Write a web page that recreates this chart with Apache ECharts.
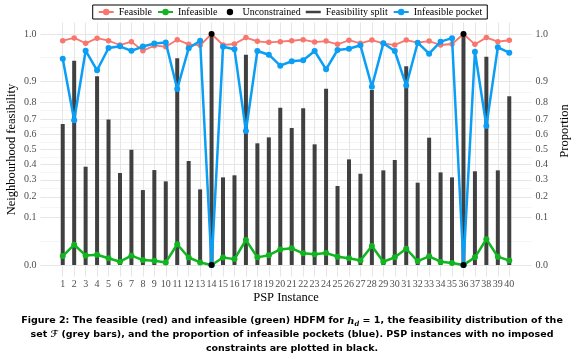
<!DOCTYPE html>
<html><head><meta charset="utf-8">
<script src="https://cdn.jsdelivr.net/npm/echarts@6/dist/echarts.min.js"></script>
<style>html,body{margin:0;padding:0;background:#fff}#c{width:580px;height:359px}</style>
</head><body><div id="c"></div><script>
const instances = [1,2,3,4,5,6,7,8,9,10,11,12,13,14,15,16,17,18,19,20,21,22,23,24,25,26,27,28,29,30,31,32,33,34,35,36,37,38,39,40];
const feasible = [0.9979,0.9993,0.9960,0.9992,0.9979,0.9944,0.9973,0.9871,0.9937,0.9926,0.9985,0.9951,0.9941,1.0,0.9944,0.9954,0.9994,0.9975,0.9968,0.9973,0.9979,0.9985,0.9970,0.9977,0.9951,0.9982,0.9960,0.9983,0.9960,0.9944,0.9983,0.9965,0.9977,0.9944,0.9954,1.0,0.9951,0.9994,0.9973,0.9982];
const infeasible = [0.0037,0.0189,0.0042,0.0048,0.0021,0.0005,0.0040,0.0011,0.0008,0.0003,0.0197,0.0026,0.0003,0.0,0.0026,0.0016,0.0286,0.0027,0.0044,0.0111,0.0128,0.0063,0.0053,0.0067,0.0032,0.0021,0.0009,0.0166,0.0005,0.0027,0.0122,0.0007,0.0035,0.0005,0.0002,0.0,0.0027,0.0303,0.0032,0.0009];
const split = [0.670,0.967,0.384,0.920,0.699,0.343,0.498,0.238,0.362,0.290,0.973,0.422,0.242,1.0,0.315,0.328,0.980,0.542,0.582,0.769,0.644,0.766,0.535,0.868,0.262,0.433,0.338,0.862,0.360,0.429,0.953,0.282,0.580,0.347,0.315,1.0,0.354,0.976,0.360,0.831];
const pocket = [0.9718,0.6934,0.9872,0.9403,0.9910,0.9930,0.9870,0.9928,0.9958,0.9967,0.8666,0.9907,0.9979,0.0,0.9926,0.9892,0.6246,0.9867,0.9803,0.9543,0.9660,0.9684,0.9867,0.9435,0.9882,0.9900,0.9941,0.8773,0.9960,0.9867,0.8818,0.9965,0.9822,0.9973,0.9992,0.0,0.9856,0.6568,0.9918,0.9839];
const unconstrainedInstances = [14,14,36,36];
const unconstrainedValues = [1,0,1,0];
const yTickLabels = [0.0,0.1,0.2,0.3,0.4,0.5,0.6,0.7,0.8,0.9,1.0];

const tf = v => Math.asin(Math.sqrt(v));
const half = Math.PI / 2;
const yMin = -0.05 * half, yMax = 1.05 * half;
const yTickPos = yTickLabels.map(tf);
const yMinorPos = yTickPos.slice(1).map((t, i) => (t + yTickPos[i]) / 2);
const pts = arr => instances.map((x, i) => [x, tf(arr[i])]);
const serif = 'Liberation Serif';
const fmt = v => (Math.sin(v) ** 2).toFixed(1);

const chart = echarts.init(document.getElementById('c'), null, {renderer: 'canvas'});
const yBase = {
  type: 'value', min: yMin, max: yMax, gridIndex: 0,
  axisLine: {show: false},
  axisTick: {show: false, customValues: yTickPos},
  axisLabel: {customValues: yTickPos, formatter: fmt, fontFamily: serif, fontSize: 10, color: '#4d4d4d', margin: 4},
  splitLine: {show: false}
};
chart.setOption({
  animation: false,
  backgroundColor: '#fff',
  grid: {left: 40.4, right: 48.4, top: 22.45, bottom: 82.45, containLabel: false, outerBoundsMode: 'none'},
  legend: {
    top: 5, left: 'center', orient: 'horizontal',
    borderColor: '#000', borderWidth: 1, padding: [2, 5], borderRadius: 0,
    itemWidth: 15, itemHeight: 8, itemGap: 5,
    textStyle: {fontFamily: serif, fontSize: 10, color: '#000'},
    data: [
      {name: 'Feasible'}, {name: 'Infeasible'}, {name: 'Unconstrained'},
      {name: 'Feasibility split', icon: 'path://M0,0L15,0M0,8L15,8M0,2.75L15,2.75L15,5.25L0,5.25Z'},
      {name: 'Infeasible pocket'}
    ]
  },
  xAxis: [{
    type: 'value', min: -0.95, max: 41.95,
    axisLine: {show: false},
    axisTick: {show: false, customValues: instances},
    axisLabel: {customValues: instances, fontFamily: serif, fontSize: 10, color: '#4d4d4d', margin: 3},
    splitLine: {show: true, lineStyle: {color: '#e6e6e6', width: 1}}
  }],
  yAxis: [
    Object.assign({}, yBase, {position: 'left', splitLine: {show: true, lineStyle: {color: '#e6e6e6', width: 1}}}),
    Object.assign({}, yBase, {position: 'right'}),
    {type: 'value', min: yMin, max: yMax, position: 'left', gridIndex: 0,
     axisLine: {show: false}, axisLabel: {show: false},
     axisTick: {show: false, customValues: yMinorPos},
     splitLine: {show: true, lineStyle: {color: '#eeeeee', width: 0.6}}}
  ],
  series: [
    {name: 'Feasibility split', type: 'bar', data: pts(split), barWidth: 4,
     itemStyle: {color: '#404040'}, z: 1},
    {name: 'Feasible', type: 'line', data: pts(feasible), symbol: 'circle', symbolSize: 5.5,
     lineStyle: {width: 1.8, color: '#F8766D'}, itemStyle: {color: '#F8766D'}, z: 2},
    {name: 'Infeasible', type: 'line', data: pts(infeasible), symbol: 'circle', symbolSize: 6,
     lineStyle: {width: 2.5, color: '#10B51F'}, itemStyle: {color: '#10B51F'}, z: 3},
    {name: 'Infeasible pocket', type: 'line', data: pts(pocket), symbol: 'circle', symbolSize: 6,
     lineStyle: {width: 2.5, color: '#0A9EF5'}, itemStyle: {color: '#0A9EF5'}, z: 4},
    {name: 'Unconstrained', type: 'line',
     data: unconstrainedInstances.map((x, i) => [x, tf(unconstrainedValues[i])]),
     symbol: 'circle', symbolSize: 6, lineStyle: {width: 0, opacity: 0},
     itemStyle: {color: '#000'}, z: 5}
  ],
  graphic: [
    {type: 'text', x: 11.7, y: 149.5, rotation: Math.PI / 2,
     style: {text: 'Neighbourhood feasibility', fontFamily: serif, fontSize: 12.5, fill: '#000', align: 'center', verticalAlign: 'middle'}},
    {type: 'text', x: 565, y: 131, rotation: Math.PI / 2,
     style: {text: 'Proportion', fontFamily: serif, fontSize: 12.5, fill: '#000', align: 'center', verticalAlign: 'middle'}},
    {type: 'text', x: 286, y: 298,
     style: {text: 'PSP Instance', fontFamily: serif, fontSize: 12.5, fill: '#000', align: 'center', verticalAlign: 'middle'}},
    {type: 'text', x: 292, y: 314,
     style: {
       text: 'Figure 2: The feasible (red) and infeasible (green) HDFM for {m|h}{s|d} = 1, the feasibility distribution of the\nset ℱ (grey bars), and the proportion of infeasible pockets (blue). PSP instances with no imposed\nconstraints are plotted in black.',
       fontFamily: 'DejaVu Sans', fontWeight: 'bold', fontSize: 9.5, lineHeight: 14, fill: '#000',
       align: 'center', verticalAlign: 'top',
       rich: {
         m: {fontFamily: 'DejaVu Serif', fontStyle: 'italic', fontWeight: 'bold', fontSize: 10, fill: '#000'},
         s: {fontFamily: 'DejaVu Serif', fontStyle: 'italic', fontWeight: 'bold', fontSize: 7, fill: '#000', verticalAlign: 'bottom', lineHeight: 8}
       }
     }}
  ]
});
</script></body></html>
